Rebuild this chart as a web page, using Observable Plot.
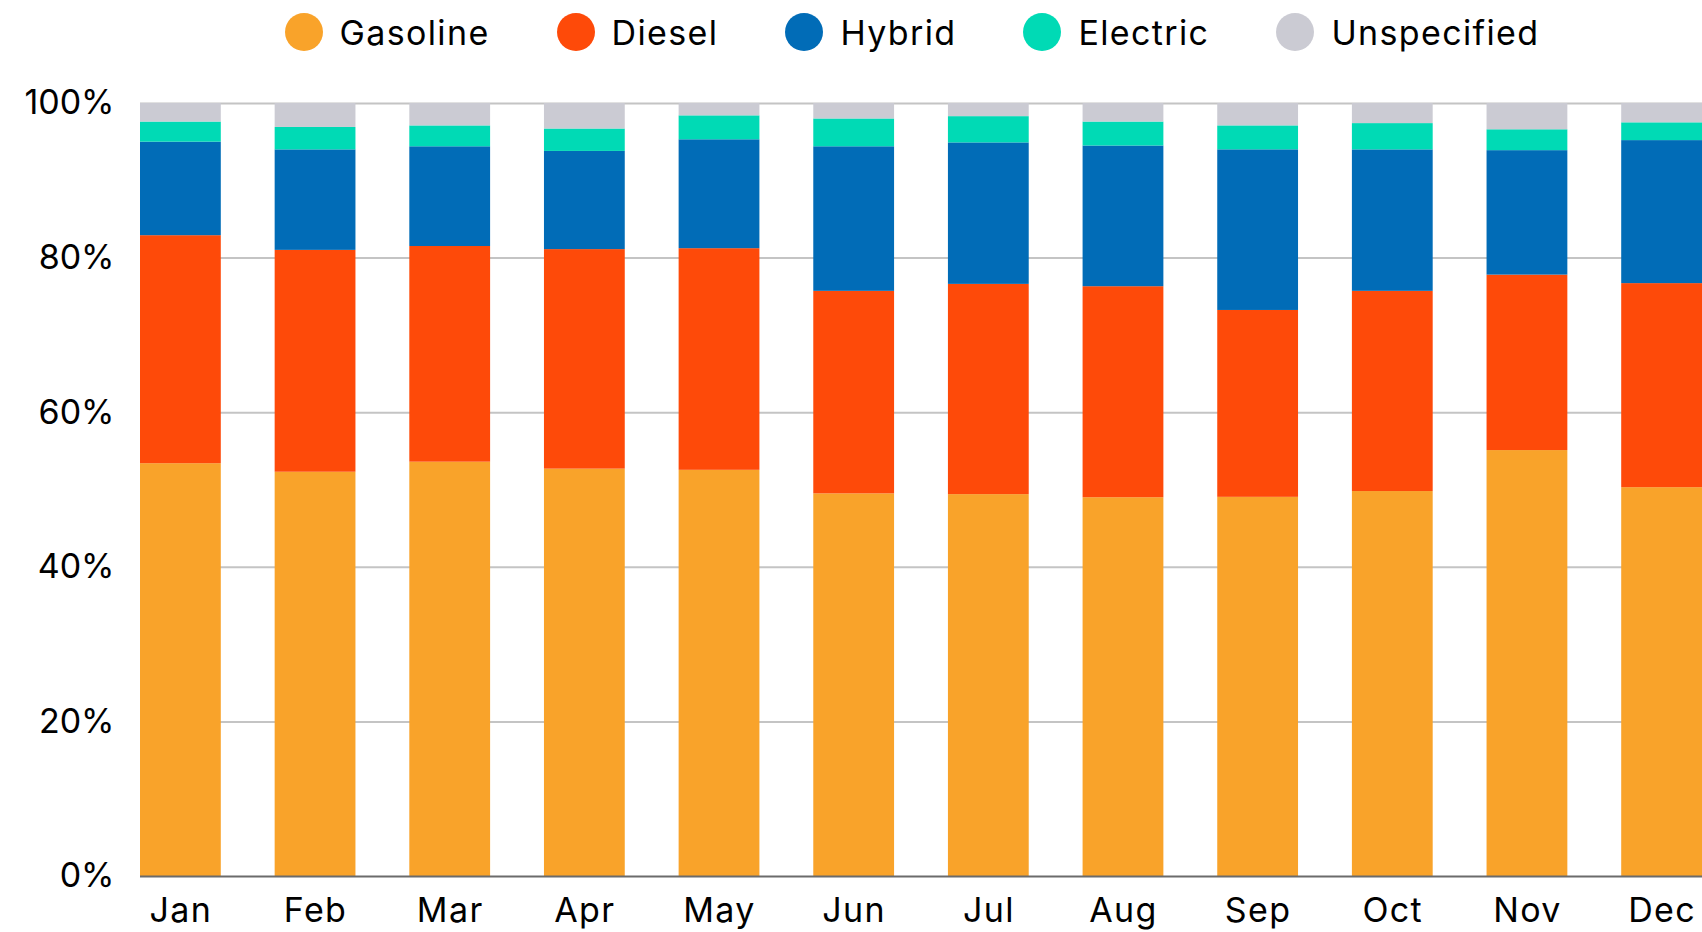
<!DOCTYPE html>
<html>
<head>
<meta charset="utf-8">
<script src="https://cdn.jsdelivr.net/npm/d3@7"></script>
<script src="https://cdn.jsdelivr.net/npm/@observablehq/plot@0.6"></script>
<style>
  html, body { margin: 0; padding: 0; background: #fff; }
  body { width: 1702px; height: 932px; overflow: hidden; font-family: Inter, "Noto Sans", sans-serif; }
  #legend {
    height: 64px; padding-bottom: 6px; margin-left: 131px; width: 1562px;
    display: flex; justify-content: center; align-items: center; gap: 67px;
    font-size: 34px; color: #000; letter-spacing: 0.04em;
  }
  .item { display: flex; align-items: center; gap: 17px; }
  .dot { width: 38px; height: 38px; border-radius: 50%; display: inline-block; }
  #chart svg { display: block; }
  #chart svg text { font-variant-numeric: proportional-nums; }
  #chart svg g[aria-label="x-axis tick label"] text { letter-spacing: 0.04em; }
</style>
</head>
<body>
<div id="legend"></div>
<div id="chart"></div>
<script>
const months = ["Jan","Feb","Mar","Apr","May","Jun","Jul","Aug","Sep","Oct","Nov","Dec"];
const types = ["Gasoline","Diesel","Hybrid","Electric","Unspecified"];
const colors = ["#F9A32A","#FE4A09","#016CB7","#00DAB5","#CBCBD3"];

const gasoline    = [53.4, 52.3, 53.6, 52.7, 52.6, 49.5, 49.4, 49.0, 49.1, 49.8, 55.1, 50.3];
const diesel      = [29.5, 28.7, 27.9, 28.4, 28.7, 26.2, 27.2, 27.3, 24.2, 25.9, 22.7, 26.4];
const hybrid      = [12.1, 13.0, 12.9, 12.7, 14.1, 18.7, 18.3, 18.2, 20.8, 18.3, 16.1, 18.5];
const electric    = [ 2.6,  2.9,  2.7,  2.9,  3.1,  3.6,  3.4,  3.1,  3.1,  3.4,  2.7,  2.3];
const unspecified = [ 2.4,  3.1,  2.9,  3.3,  1.6,  2.0,  1.7,  2.4,  2.9,  2.6,  3.4,  2.5];

const yTicks = [0, 0.2, 0.4, 0.6, 0.8, 1];

const series = [gasoline, diesel, hybrid, electric, unspecified];
const data = months.flatMap((m, i) => types.map((t, j) => ({month: m, type: t, value: series[j][i]})));

// legend
const legend = document.getElementById("legend");
types.forEach((t, j) => {
  const it = document.createElement("div");
  it.className = "item";
  it.innerHTML = `<span class="dot" style="background:${colors[j]}"></span><span>${t}</span>`;
  legend.appendChild(it);
});

const chart = Plot.plot({
  width: 1702,
  height: 862,
  marginLeft: 140,
  marginRight: 0,
  marginTop: 33,
  marginBottom: 56,
  style: {fontFamily: "Inter, 'Noto Sans', sans-serif", fontSize: "34px", color: "#000", background: "#fff"},
  x: {domain: months, paddingInner: 0.4, paddingOuter: 0, round: false, label: null, tickSize: 0, tickPadding: 21},
  y: {domain: [0, 1], ticks: yTicks, tickFormat: d3.format(".0%"), label: null, tickSize: 0, tickPadding: 26},
  color: {domain: types, range: colors},
  marks: [
    Plot.gridY(yTicks.slice(1), {stroke: "#c4c4c4", strokeOpacity: 1, strokeWidth: 2}),
    Plot.barY(data, Plot.stackY({offset: "normalize", x: "month", y: "value", fill: "type"})),
    Plot.ruleY([0], {stroke: "#6b6b6b", strokeWidth: 2})
  ]
});
document.getElementById("chart").appendChild(chart);
</script>
</body>
</html>
